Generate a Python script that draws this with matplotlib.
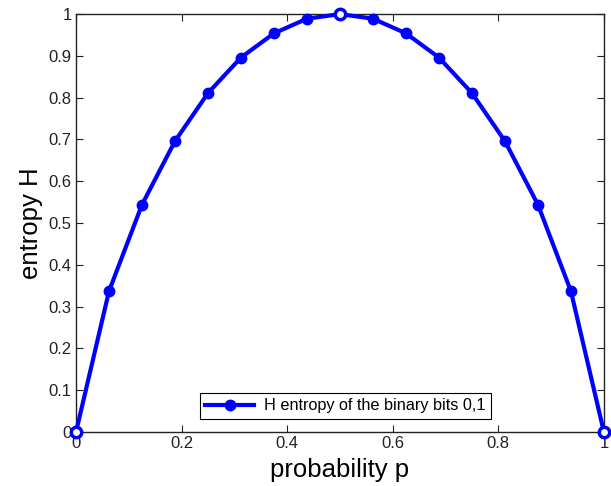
import matplotlib
matplotlib.use("Agg")
import matplotlib.pyplot as plt

p = [0, 0.0625, 0.125, 0.1875, 0.25, 0.3125, 0.375, 0.4375, 0.5,
     0.5625, 0.625, 0.6875, 0.75, 0.8125, 0.875, 0.9375, 1]
H = [0, 0.337, 0.544, 0.696, 0.811, 0.896, 0.954, 0.989, 1.0,
     0.989, 0.954, 0.896, 0.811, 0.696, 0.544, 0.337, 0]
hollow_idx = [0, 8, 16]
xticks = [0, 0.2, 0.4, 0.6, 0.8, 1]
yticks = [0, 0.1, 0.2, 0.3, 0.4, 0.5, 0.6, 0.7, 0.8, 0.9, 1]

plt.rcParams['font.family'] = ['Liberation Sans', 'DejaVu Sans']
fig = plt.figure(figsize=(6.11, 4.86), dpi=100)
ax = fig.add_axes([0.1244, 0.111, 0.864, 0.860])

blue = '#0000ff'
ax.plot(p, H, '-o', color=blue, lw=3, ms=7.5, mfc=blue, mec=blue,
        label='H entropy of the binary bits 0,1', clip_on=False, zorder=3)
ax.plot([p[i] for i in hollow_idx], [H[i] for i in hollow_idx], 'o', ms=7.5,
        mfc='white', mec=blue, mew=2.5, clip_on=False, zorder=4)

ax.set_xlim(0, 1)
ax.set_ylim(0, 1)
ax.set_xticks(xticks)
ax.set_xticklabels([f'{v:g}' for v in xticks])
ax.set_yticks(yticks)
ax.set_yticklabels([f'{v:g}' for v in yticks])
ax.tick_params(direction='in', top=True, right=True, labelsize=12, length=5,
               width=0.8, colors='#222222', pad=3)
for s in ax.spines.values():
    s.set_color('#222222')
    s.set_linewidth(1.0)
ax.set_xlabel('probability p', fontsize=18.5, labelpad=5)
ax.set_ylabel('entropy H', fontsize=18.5, labelpad=4)

leg = ax.legend(loc='lower center', bbox_to_anchor=(0.51, 0.012), fontsize=11.7,
                fancybox=False, edgecolor='black', framealpha=1,
                handlelength=3.0, borderpad=0.35, handletextpad=0.6)
leg.get_frame().set_linewidth(0.8)

fig.savefig('out.png', dpi=100)
